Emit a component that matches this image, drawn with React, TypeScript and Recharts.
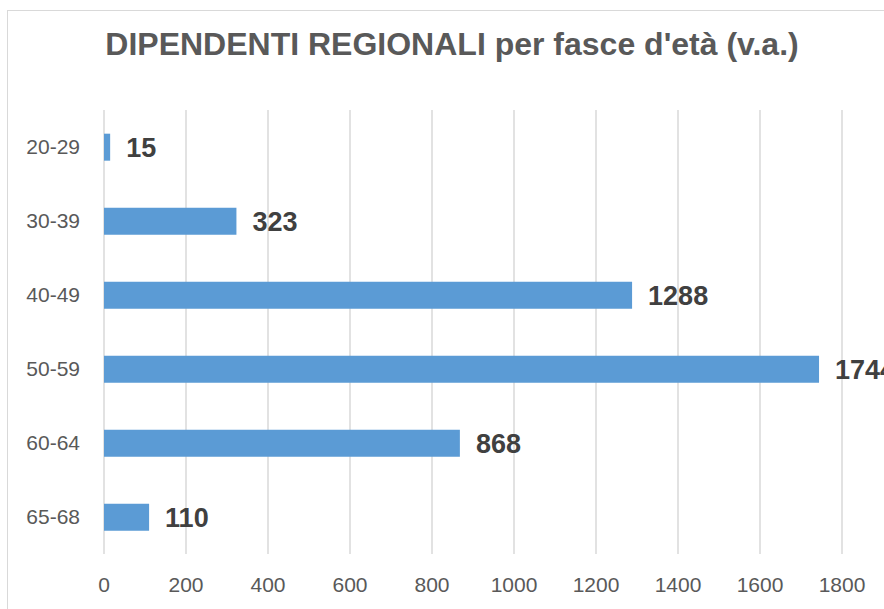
import { BarChart, Bar, XAxis, YAxis, CartesianGrid, LabelList } from "recharts";

// Data
const ageBands = ["20-29", "30-39", "40-49", "50-59", "60-64", "65-68"];
const employees = [15, 323, 1288, 1744, 868, 110];
const xTicks = [0, 200, 400, 600, 800, 1000, 1200, 1400, 1600, 1800];

const data = ageBands.map((age, i) => ({ age, value: employees[i] }));

const font = "'Liberation Sans', Arial, sans-serif";

export default function App() {
  return (
    <div
      style={{
        position: "absolute",
        left: 0,
        top: 0,
        width: 884,
        height: 609,
        overflow: "hidden",
        background: "#fff",
        fontFamily: font,
      }}
    >
      {/* chart frame, cut off on the right and bottom */}
      <div
        style={{
          position: "absolute",
          left: 7,
          top: 10,
          width: 1000,
          height: 800,
          border: "1px solid #d9d9d9",
        }}
      />

      {/* Title */}
      <div
        style={{
          position: "absolute",
          left: 0,
          top: 24,
          width: 904,
          textAlign: "center",
          fontSize: 32,
          fontWeight: "bold",
          color: "#595959",
          lineHeight: "40px",
        }}
      >
        DIPENDENTI REGIONALI per fasce d'età (v.a.)
      </div>

      <div style={{ position: "absolute", left: 0, top: 0 }}>
        <BarChart
          width={884}
          height={609}
          data={data}
          layout="vertical"
          margin={{ top: 110, right: 42, bottom: 0, left: 0 }}
          barCategoryGap="32%"
        >
          <CartesianGrid horizontal={false} stroke="#d9d9d9" strokeWidth={1.5} />
          <XAxis
            type="number"
            domain={[0, 1800]}
            ticks={xTicks}
            height={55}
            axisLine={false}
            tickLine={false}
            tickMargin={17}
            tick={{ fill: "#595959", fontSize: 21, fontFamily: font }}
          />
          <YAxis
            type="category"
            dataKey="age"
            width={104}
            axisLine={false}
            tickLine={false}
            tickMargin={18}
            tick={{ fill: "#595959", fontSize: 21, fontFamily: font }}
          />
          <Bar dataKey="value" fill="#5B9BD5" isAnimationActive={false}>
            <LabelList
              dataKey="value"
              position="right"
              offset={16}
              fill="#404040"
              fontSize={27}
              fontWeight="bold"
              fontFamily={font}
            />
          </Bar>
        </BarChart>
      </div>
    </div>
  );
}
